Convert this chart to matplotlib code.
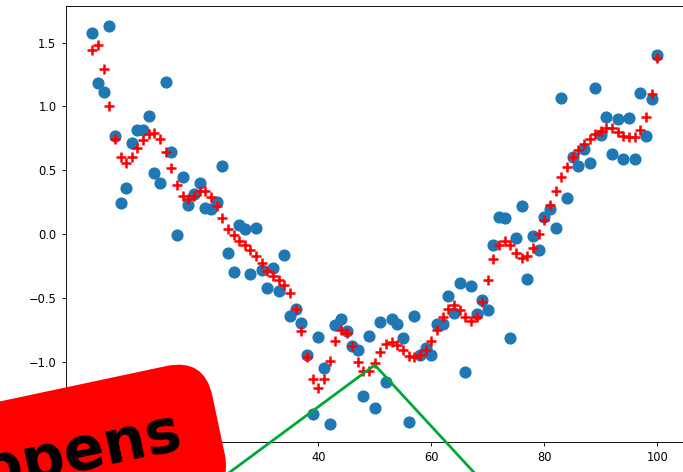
import numpy as np
import matplotlib
matplotlib.use('Agg')
import matplotlib.pyplot as plt

# x positions of the points
x = np.arange(0, 101)

# noisy measurements (blue dots)
raw = [1.575, 1.18, 1.11, 1.63, 0.765, 0.246, 0.364, 0.713, 0.815, 0.815,
       0.922, 0.48, 0.40, 1.19, 0.645, -0.01, 0.443, 0.228, 0.317, 0.40,
       0.20, 0.194, 0.254, 0.535, -0.152, -0.30, 0.07, 0.037, -0.31, 0.045,
       -0.28, -0.42, -0.265, -0.448, -0.165, -0.645, -0.587, -0.70, -0.95, -1.413,
       -0.81, -1.05, -1.49, -0.71, -0.67, -0.763, -0.88, -0.91, -1.268, -0.797,
       -1.365, -0.69, -1.163, -0.67, -0.705, -0.815, -1.47, -0.645, -0.946, -0.894,
       -0.946, -0.705, -0.705, -0.487, -0.62, -0.388, -1.085, -0.41, -0.63, -0.514,
       -0.592, -0.087, 0.136, 0.123, -0.815, -0.029, 0.22, -0.356, -0.016, -0.128,
       0.134, 0.194, 0.05, 1.067, 0.28, 0.60, 0.53, 0.666, 0.556, 1.145,
       0.778, 0.92, 0.627, 0.90, 0.587, 0.906, 0.587, 1.106, 0.77, 1.06,
       1.40]

# smoothed values (red plus markers)
smooth = [1.44, 1.48, 1.29, 1.00, 0.745, 0.60, 0.56, 0.605, 0.674, 0.739,
          0.784, 0.789, 0.745, 0.645, 0.519, 0.385, 0.30, 0.273, 0.30, 0.333,
          0.338, 0.293, 0.22, 0.123, 0.042, -0.008, -0.055, -0.09, -0.128, -0.173,
          -0.23, -0.29, -0.33, -0.364, -0.396, -0.46, -0.585, -0.763, -0.967, -1.134,
          -1.208, -1.137, -0.993, -0.836, -0.75, -0.776, -0.88, -1.004, -1.077, -1.077,
          -1.01, -0.925, -0.862, -0.847, -0.867, -0.907, -0.96, -0.967, -0.946, -0.907,
          -0.836, -0.75, -0.653, -0.585, -0.558, -0.592, -0.653, -0.68, -0.65, -0.535,
          -0.364, -0.2, -0.087, -0.055, -0.087, -0.147, -0.186, -0.173, -0.108, -0.003,
          0.11, 0.225, 0.333, 0.443, 0.527, 0.605, 0.658, 0.705, 0.745, 0.784,
          0.81, 0.83, 0.83, 0.80, 0.77, 0.757, 0.757, 0.818, 0.915, 1.10,
          1.38]

# green pointer line (data coords, runs off the bottom of the axes)
pointer_x = [10.2, 50.0, 75.7]
pointer_y = [-2.33, -1.027, -2.26]

label = 'Something happens'

fig = plt.figure(figsize=(6.83, 4.72), dpi=100)
ax = fig.add_axes([66 / 683, 30.3 / 472, 619 / 683, 436 / 472])

ax.scatter(x, raw, s=60, color='#1f77b4', zorder=2)
ax.plot(x, smooth, 'r+', ms=7, mew=1.8, zorder=3)
ax.plot(pointer_x, pointer_y, color='#00a835', lw=2, clip_on=False, zorder=4)

ax.set_xlim(-4.65, 104.9)
ax.set_ylim(-1.628, 1.789)
ax.set_xticks([0, 20, 40, 60, 80, 100])
ax.set_yticks([-1.5, -1.0, -0.5, 0.0, 0.5, 1.0, 1.5])
ax.tick_params(labelsize=8.3, length=2.9, width=0.65, pad=4)
for s in ax.spines.values():
    s.set_linewidth(0.65)

# red rotated label box in the lower left corner
fig.text(184 / 683, 23 / 472, label, fontsize=43, fontweight='bold',
         color='black', ha='right', va='baseline', rotation=12,
         rotation_mode='anchor',
         bbox=dict(boxstyle='round,pad=0.65', facecolor='red', edgecolor='none'))

fig.savefig('out.png', dpi=100)
